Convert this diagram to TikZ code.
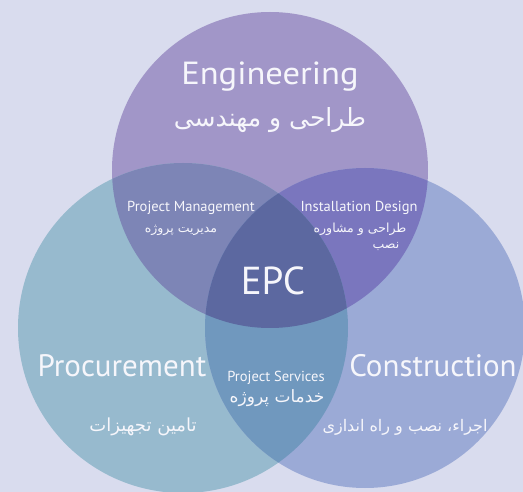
\documentclass[tikz,border=0pt]{standalone}
\usepackage{fontspec}
\setmainfont{PT Sans}
\newfontfamily\widesans[FakeStretch=1.08]{PT Sans}
\newfontfamily\fa[Script=Arabic]{DejaVu Sans}
\TeXXeTstate=1
\definecolor{bgc}{HTML}{D9DCEE}
\definecolor{cE}{HTML}{A196C8}
\definecolor{cP}{HTML}{97BACE}
\definecolor{cC}{HTML}{9BAAD6}
\definecolor{cEP}{HTML}{7D85B6}
\definecolor{cEC}{HTML}{7A76BE}
\definecolor{cPC}{HTML}{7098BE}
\definecolor{cEPC}{HTML}{5C68A0}
\definecolor{txt}{HTML}{F6F6FB}
\tikzset{
  lbl/.style={text=txt, inner sep=0pt, align=center},
  big/.style={lbl, font=\fontsize{31}{33}\selectfont},
  bigfa/.style={lbl, font=\fa\fontsize{25}{28}\selectfont},
  small/.style={lbl, font=\fontsize{14.5}{16}\selectfont},
  smallfa/.style={lbl, font=\fa\fontsize{12.5}{14}\selectfont},
  midfa/.style={lbl, font=\fa\fontsize{17}{19}\selectfont},
}
\begin{document}
\begin{tikzpicture}[x=1pt,y=-1pt]
\useasboundingbox (0,0) rectangle (523,492);
\fill[bgc] (0,0) rectangle (523,492);
\coordinate (cT) at (270,170);
\coordinate (cL) at (183,328);
\coordinate (cR) at (365,328);
\def\rT{158pt}\def\rL{165pt}\def\rR{160pt}
% circles
\fill[cE] (cT) circle (\rT);
\fill[cP] (cL) circle (\rL);
\fill[cC] (cR) circle (\rR);
% pairwise
\begin{scope}\clip (cT) circle (\rT); \fill[cEP] (cL) circle (\rL);\end{scope}
\begin{scope}\clip (cT) circle (\rT); \fill[cEC] (cR) circle (\rR);\end{scope}
\begin{scope}\clip (cL) circle (\rL); \fill[cPC] (cR) circle (\rR);\end{scope}
% triple
\begin{scope}\clip (cT) circle (\rT); \clip (cL) circle (\rL); \fill[cEPC] (cR) circle (\rR);\end{scope}
% labels
\node[lbl, font=\widesans\fontsize{32}{34}\selectfont] (eng) at (270,77) {Engineering};
\node[bigfa] (engfa) at (270,120) {\beginR طراحی و مهندسی\endR};
\node[small] (pm) at (191,208) {Project Management};
\node[smallfa] (pmfa) at (181,230) {\beginR مدیریت پروژه\endR};
\node[small] (id) at (359,208) {Installation Design};
\node[smallfa] (idfa) at (360,229) {\beginR طراحی و مشاوره\endR};
\node[smallfa] (idfa2) at (386,247) {\beginR نصب\endR};
\node[lbl, font=\fontsize{39}{41}\selectfont] (epc) at (273,281) {EPC};
\node[big] (proc) at (122,366) {Procurement};
\node[big] (cons) at (433,366) {Construction};
\node[small] (ps) at (276,378) {Project Services};
\node[midfa] (psfa) at (277,398) {\beginR خدمات پروژه\endR};
\node[lbl, font=\fa\fontsize{18}{20}\selectfont] (procfa) at (143,427) {\beginR تامین تجهیزات\endR};
\node[lbl, font=\fa\fontsize{16}{18}\selectfont] (consfa) at (405,427) {\beginR اجراء، نصب و راه اندازی\endR};
\end{tikzpicture}
\end{document}
